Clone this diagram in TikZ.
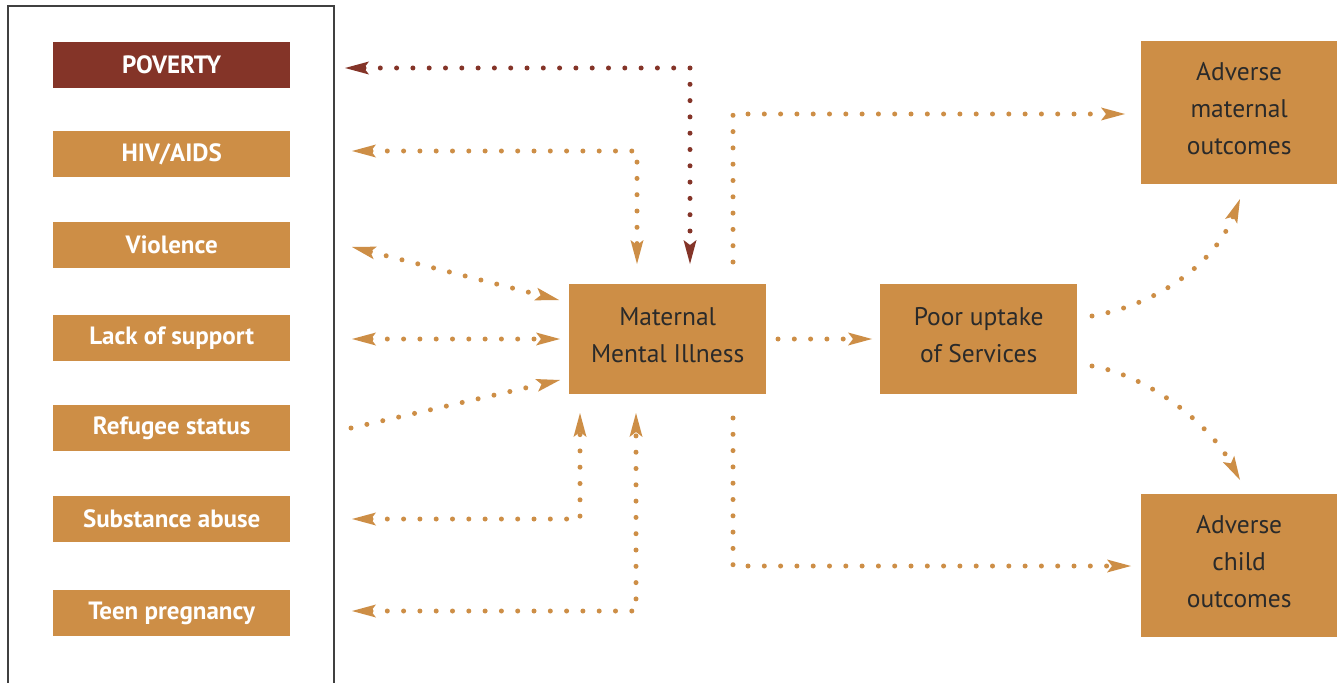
\documentclass[tikz,border=0pt]{standalone}
\usepackage{fontspec}
\setmainfont{PT Sans}
\usetikzlibrary{arrows.meta}
\definecolor{org}{HTML}{CD8E46}
\definecolor{dred}{HTML}{843428}
\definecolor{txt}{HTML}{2A2A2A}
\definecolor{framec}{HTML}{404040}
\begin{document}
\begin{tikzpicture}[x=1pt,y=-1pt,
  lbox/.style={fill=org, minimum width=237pt, minimum height=46pt, inner sep=0pt, text=white,
     font=\fontsize{25}{28}\selectfont\bfseries, anchor=north west},
  mtext/.style={text=txt, font=\fontsize{25.5}{37}\selectfont, align=center, inner sep=0pt, yshift=4pt},
  mbox/.style={fill=org, minimum width=197pt, minimum height=110pt, inner sep=0pt, anchor=north west},
  obox/.style={fill=org, minimum width=196pt, minimum height=143pt, inner sep=0pt, anchor=north west},
  conn/.style={draw=org, line width=5pt, line cap=round, dash pattern=on 0pt off 16.3pt},
  connred/.style={conn, draw=dred},
  tipo/.style={-{Stealth[length=24pt,width=13pt,inset=5pt,line width=0pt,fill=org]}},
  tipoo/.style={{Stealth[length=24pt,width=13pt,inset=5pt,line width=0pt,fill=org]}-{Stealth[length=24pt,width=13pt,inset=5pt,line width=0pt,fill=org]}},
  tiprr/.style={{Stealth[length=24pt,width=13pt,inset=5pt,line width=0pt,fill=dred]}-{Stealth[length=24pt,width=13pt,inset=5pt,line width=0pt,fill=dred]}},
]
\clip (0,0) rectangle (1337,682);
\fill[white] (0,0) rectangle (1337,682);
% outer frame
\draw[framec, line width=1.6pt] (8,700) -- (8,6) -- (334,6) -- (334,700);

% left boxes
\node[lbox, fill=dred] (pov) at (53,42) {POVERTY};
\node[lbox] (hiv) at (53,131) {HIV/AIDS};
\node[lbox] (vio) at (53,222) {Violence};
\node[lbox] (lac) at (53,315) {Lack of support};
\node[lbox] (ref) at (53,405) {Refugee status};
\node[lbox] (sub) at (53,496) {Substance abuse};
\node[lbox] (teen) at (53,590) {Teen pregnancy};

% main boxes
\node[mbox, label={[mtext]center:{Maternal\\Mental Illness}}] (mmi) at (569,284) {};
\node[mbox, label={[mtext]center:{Poor uptake\\of Services}}] (pu) at (880,284) {};
\node[obox, label={[mtext]center:{Adverse\\maternal\\outcomes}}] (am) at (1141,41) {};
\node[obox, label={[mtext]center:{Adverse\\child\\outcomes}}] (ac) at (1141,494) {};

% connector end points
\coordinate (povR) at (345,68);
\coordinate (hivR) at (352,151);
\coordinate (vioR) at (352,247);
\coordinate (lacR) at (352,339);
\coordinate (refR) at (351,428);
\coordinate (subR) at (352,519);
\coordinate (teenR) at (352,611);
\coordinate (m1) at (690,264);
\coordinate (m2) at (637,264);
\coordinate (m3) at (559,300);
\coordinate (m4) at (560,339);
\coordinate (m5) at (560,380);
\coordinate (m6) at (580,413);
\coordinate (m7) at (636,413);
\coordinate (m8) at (733,262);
\coordinate (m9) at (733,418);
\coordinate (m10) at (778,339);
\coordinate (pu1) at (872,339);
\coordinate (pu2) at (1092,316);
\coordinate (pu3) at (1092,366);
\coordinate (am1) at (1125,114);
\coordinate (am2) at (1240,199);
\coordinate (ac1) at (1131,566);
\coordinate (ac2) at (1240,480);

% connectors
\draw[connred, tiprr] (povR) -| (m1);
\draw[conn, tipoo] (hivR) -| (m2);
\draw[conn, tipoo] (vioR) -- (m3);
\draw[conn, tipoo] (lacR) -- (m4);
\draw[conn, tipo] (refR) -- (m5);
\draw[conn, tipoo] (subR) -| (m6);
\draw[conn, tipoo] (teenR) -| (m7);
\draw[conn, tipo] (m8) |- (am1);
\draw[conn, tipo] (m9) |- (ac1);
\draw[conn, tipo] (m10) -- (pu1);
\draw[conn, tipo] (pu2) .. controls (1160,304) and (1215,262) .. (am2);
\draw[conn, tipo] (pu3) .. controls (1150,376) and (1210,425) .. (ac2);
\end{tikzpicture}
\end{document}
